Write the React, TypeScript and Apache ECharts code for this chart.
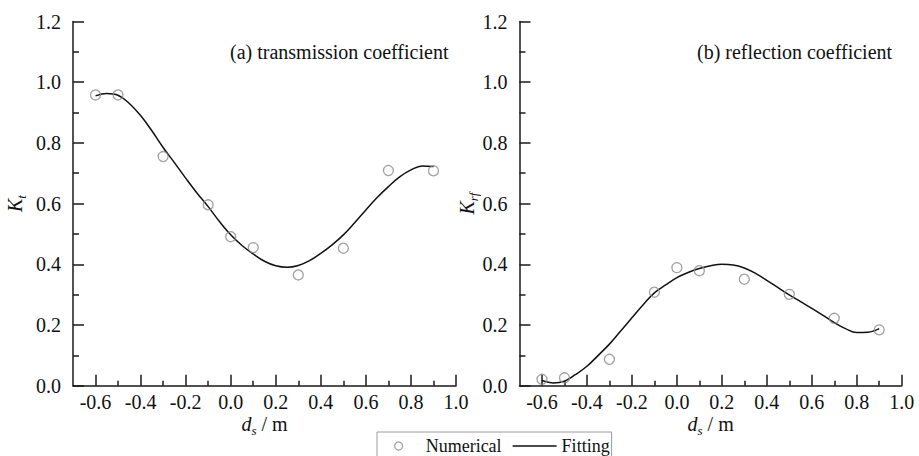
import React, { useEffect, useRef } from "react";
import * as echarts from "echarts";

const FONT = "Liberation Serif, Times New Roman, serif";

// numerical points (same x for both panels)
const pointX = [-0.6, -0.5, -0.3, -0.1, 0.0, 0.1, 0.3, 0.5, 0.7, 0.9];
const ktValues = [0.958, 0.958, 0.755, 0.596, 0.491, 0.455, 0.365, 0.453, 0.709, 0.708];
const krfValues = [0.021, 0.026, 0.087, 0.308, 0.389, 0.379, 0.351, 0.301, 0.222, 0.184];

// fitted curves
const fitX = [
  -0.6, -0.55, -0.5, -0.45, -0.4, -0.35, -0.3, -0.25, -0.2, -0.15, -0.1, -0.05, 0.0,
  0.05, 0.1, 0.15, 0.2, 0.25, 0.3, 0.35, 0.4, 0.45, 0.5, 0.55, 0.6, 0.65, 0.7, 0.75,
  0.8, 0.85, 0.9,
];
const ktFit = [
  0.955, 0.963, 0.957, 0.93, 0.89, 0.84, 0.785, 0.735, 0.684, 0.635, 0.59, 0.541, 0.497,
  0.462, 0.434, 0.41, 0.395, 0.39, 0.396, 0.412, 0.436, 0.464, 0.497, 0.537, 0.579, 0.62,
  0.656, 0.688, 0.711, 0.724, 0.722,
];
const krfFit = [
  0.017, 0.009, 0.015, 0.037, 0.064, 0.1, 0.137, 0.18, 0.224, 0.267, 0.306, 0.332, 0.356,
  0.373, 0.386, 0.395, 0.4, 0.398, 0.388, 0.37, 0.347, 0.323, 0.299, 0.277, 0.255, 0.232,
  0.208, 0.188, 0.175, 0.176, 0.188,
];

const xMajorTicks = [-0.6, -0.4, -0.2, 0.0, 0.2, 0.4, 0.6, 0.8, 1.0];
const xMinorTicks = [-0.5, -0.3, -0.1, 0.1, 0.3, 0.5, 0.7, 0.9];

const panelTitles = ["(a) transmission coefficient", "(b) reflection coefficient"];
const seriesNames = ["Numerical", "Fitting"];

const AXIS_COLOR = "#1a1a1a";
const TEXT_COLOR = "#111";

function pairs(xs: number[], ys: number[]) {
  return xs.map((x, i) => [x, ys[i]]);
}

function richName(sizeMain: number, sizeSub: number) {
  return {
    i: { fontStyle: "italic", fontSize: sizeMain, fontFamily: FONT, color: TEXT_COLOR, lineHeight: 26 },
    s: {
      fontStyle: "italic",
      fontSize: sizeSub,
      fontFamily: FONT,
      color: TEXT_COLOR,
      lineHeight: 13,
      verticalAlign: "bottom",
    },
    n: { fontSize: sizeMain, fontFamily: FONT, color: TEXT_COLOR, lineHeight: 26 },
  };
}

export default function App() {
  const ref = useRef<HTMLDivElement>(null);
  useEffect(() => {
    if (!ref.current) return;
    const chart = echarts.init(ref.current, undefined, { renderer: "svg" });

    const grids = [
      { left: 73, top: 21.5, width: 383, height: 364.2 },
      { left: 519.5, top: 21.5, width: 382.2, height: 364.2 },
    ];

    const xAxes: any[] = [];
    const yAxes: any[] = [];
    [0, 1].forEach((g) => {
      xAxes.push({
        type: "value",
        gridIndex: g,
        position: "bottom",
        min: -0.7,
        max: 1.0,
        axisLine: { show: true, onZero: false, lineStyle: { color: AXIS_COLOR, width: 1.5 } },
        axisTick: {
          show: true,
          inside: true,
          length: 11,
          customValues: xMajorTicks,
          lineStyle: { color: AXIS_COLOR, width: 1.5 },
        },
        axisLabel: {
          show: true,
          customValues: xMajorTicks,
          formatter: (v: number) => v.toFixed(1),
          fontSize: 20,
          fontFamily: FONT,
          color: TEXT_COLOR,
          margin: 6,
        },
        splitLine: { show: false },
        name: "{i|d}{s|s}{n| / m}",
        nameLocation: "middle",
        nameGap: 25,
        nameMoveOverlap: false,
        nameTextStyle: { fontFamily: FONT, rich: richName(20, 13) },
      });
      xAxes.push({
        type: "value",
        gridIndex: g,
        position: "bottom",
        min: -0.7,
        max: 1.0,
        axisLine: { show: false },
        axisTick: {
          show: true,
          inside: true,
          length: 5,
          customValues: xMinorTicks,
          lineStyle: { color: AXIS_COLOR, width: 1.5 },
        },
        axisLabel: { show: false },
        splitLine: { show: false },
      });
      yAxes.push({
        type: "value",
        gridIndex: g,
        min: 0,
        max: 1.2,
        interval: 0.2,
        axisLine: { show: true, onZero: false, lineStyle: { color: AXIS_COLOR, width: 1.5 } },
        axisTick: { show: true, inside: true, length: 11, lineStyle: { color: AXIS_COLOR, width: 1.5 } },
        minorTick: { show: true, splitNumber: 2, length: 6, lineStyle: { color: AXIS_COLOR, width: 1.5 } },
        axisLabel: {
          formatter: (v: number) => v.toFixed(1),
          fontSize: 20,
          fontFamily: FONT,
          color: TEXT_COLOR,
          margin: 12,
        },
        splitLine: { show: false },
        name: g === 0 ? "{i|K}{s|t}" : "{i|K}{s|rf}",
        nameLocation: "middle",
        nameGap: g === 0 ? 45 : 40,
        nameMoveOverlap: false,
        nameTextStyle: { fontFamily: FONT, rich: richName(20, 13) },
      });
    });

    const lineStyle = { color: "#111", width: 1.5 };
    const scatterStyle = { color: "rgba(255,255,255,0)", borderColor: "#8a8a8a", borderWidth: 1.3 };

    const option: any = {
      animation: false,
      backgroundColor: "#fff",
      textStyle: { fontFamily: FONT },
      title: [
        {
          text: panelTitles[0],
          left: 230,
          top: 42,
          padding: 0,
          textStyle: { fontSize: 20, fontWeight: "normal", fontFamily: FONT, color: TEXT_COLOR },
        },
        {
          text: panelTitles[1],
          left: 697,
          top: 42,
          padding: 0,
          textStyle: { fontSize: 20, fontWeight: "normal", fontFamily: FONT, color: TEXT_COLOR },
        },
      ],
      legend: {
        left: 377,
        top: 432,
        padding: [5, 2, 12, 17],
        itemGap: 11,
        itemWidth: 44,
        itemHeight: 8,
        symbolKeepAspect: true,
        borderColor: "#9a9a9a",
        borderWidth: 1,
        textStyle: { fontSize: 18, fontFamily: FONT, color: TEXT_COLOR },
        data: [
          { name: seriesNames[0], icon: "circle", itemStyle: scatterStyle },
          {
            name: seriesNames[1],
            icon: "path://M0 0H44V1.5H0Z",
            itemStyle: { color: "#111", borderWidth: 0 },
          },
        ],
      },
      grid: grids,
      xAxis: xAxes,
      yAxis: yAxes,
      series: [
        {
          name: seriesNames[1],
          type: "line",
          xAxisIndex: 0,
          yAxisIndex: 0,
          data: pairs(fitX, ktFit),
          smooth: 0.4,
          symbol: "none",
          lineStyle,
          itemStyle: { color: "#111" },
          z: 2,
        },
        {
          name: seriesNames[0],
          type: "scatter",
          xAxisIndex: 0,
          yAxisIndex: 0,
          data: pairs(pointX, ktValues),
          symbol: "circle",
          symbolSize: 10,
          itemStyle: scatterStyle,
          z: 3,
        },
        {
          name: seriesNames[1],
          type: "line",
          xAxisIndex: 2,
          yAxisIndex: 1,
          data: pairs(fitX, krfFit),
          smooth: 0.4,
          symbol: "none",
          lineStyle,
          itemStyle: { color: "#111" },
          z: 2,
        },
        {
          name: seriesNames[0],
          type: "scatter",
          xAxisIndex: 2,
          yAxisIndex: 1,
          data: pairs(pointX, krfValues),
          symbol: "circle",
          symbolSize: 10,
          itemStyle: scatterStyle,
          z: 3,
        },
      ],
    };
    chart.setOption(option);
    return () => chart.dispose();
  }, []);

  return <div ref={ref} style={{ width: 919, height: 456, position: "absolute", left: 0, top: 0 }} />;
}
